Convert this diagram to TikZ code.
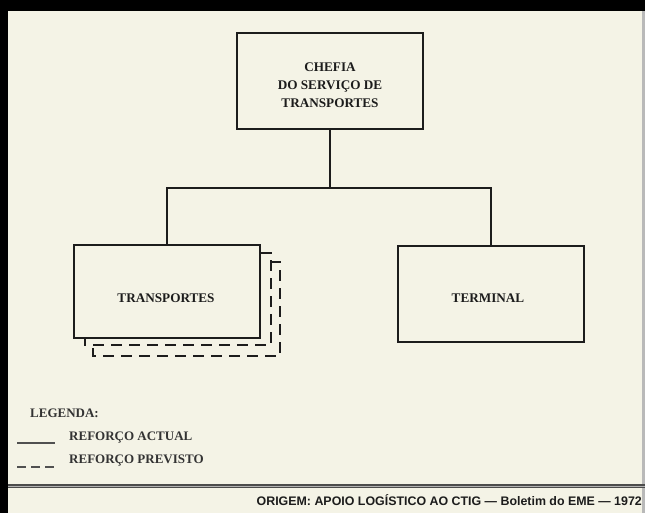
\documentclass[tikz,border=0pt]{standalone}
\usepackage{fontspec}
\setmainfont{Liberation Serif}
\newfontfamily\origemfont{Liberation Sans}
\usetikzlibrary{calc}
\definecolor{paper}{RGB}{244,243,230}
\definecolor{ink}{RGB}{28,28,28}
\definecolor{leggray}{RGB}{80,80,80}
\begin{document}
\begin{tikzpicture}[x=1pt,y=-1pt,
  orgbox/.style={draw=ink, line width=2pt, inner sep=0pt, outer sep=0pt},
  boxtext/.style={inner sep=0pt, text=ink, align=center,
    font=\fontsize{13.2}{18}\selectfont\bfseries},
  conn/.style={draw=ink, line width=1.9pt},
  dashline/.style={draw=ink, line width=2pt, dash pattern=on 11pt off 7pt},
  legtext/.style={inner sep=0pt, anchor=west, text=ink!90,
    font=\fontsize{13}{16}\selectfont\bfseries},
  legline/.style={draw=leggray, line width=2pt}]
\fill[paper] (0,0) rectangle (645,513);
\useasboundingbox (0,0) rectangle (645,513);
\fill[black] (0,0) rectangle (645,11);
\fill[black] (0,0) rectangle (8,513);
\fill[gray!55] (642,11) rectangle (645,513);

% boxes
\node[orgbox, minimum width=186pt, minimum height=96pt] (chefia) at (330,81) {};
\node[boxtext] (chefiatxt) at (330,85) {CHEFIA\\DO SERVIÇO DE\\TRANSPORTES};
\node[orgbox, minimum width=186pt, minimum height=93pt] (transp) at (167,291.5) {};
\node[boxtext] (transptxt) at (166,298) {TRANSPORTES};
\node[orgbox, minimum width=186pt, minimum height=96pt] (term) at (491,294) {};
\node[boxtext] (termtxt) at (488,298) {TERMINAL};

% connectors
\coordinate (bus) at (330,188);
\draw[conn] (chefia.south) -- (bus);
\draw[conn] (bus) -| (transp.north);
\draw[conn] (bus) -| (term.north);

% planned reinforcement outlines
\draw[dashline] ($(transp.north east)+(0,7.5)$) -- ($(transp.north east)+(10.5,7.5)$)
  -- ($(transp.south east)+(10.5,7)$) -- ($(transp.south west)+(10.5,7)$)
  -- ($(transp.south west)+(10.5,0)$);
\draw[dashline] ($(transp.north east)+(10.5,16.7)$) -- ($(transp.north east)+(20,16.7)$)
  -- ($(transp.south east)+(20,18)$) -- ($(transp.south west)+(18.7,18)$)
  -- ($(transp.south west)+(18.7,7)$);

% legend
\node[legtext] (legenda) at (30,413) {LEGENDA:};
\node[legtext] (actual) at (69,438) {REFORÇO ACTUAL};
\node[legtext] (previsto) at (69,461) {REFORÇO PREVISTO};
\draw[legline] (17,443) -- (55,443);
\draw[legline, dash pattern=on 9pt off 5pt] (17,467) -- (55,467);

% bottom rule and source
\draw[line width=4pt, black!70] (8,486) -- (645,486);
\draw[line width=1pt, gray!60] (8,486) -- (645,486);
\node[inner sep=0pt, anchor=east, text=ink,
  font=\origemfont\bfseries\fontsize{12.4}{14}\selectfont] (origem) at (642,500)
  {ORIGEM: APOIO LOGÍSTICO AO CTIG — Boletim do EME — 1972};
\end{tikzpicture}
\end{document}
